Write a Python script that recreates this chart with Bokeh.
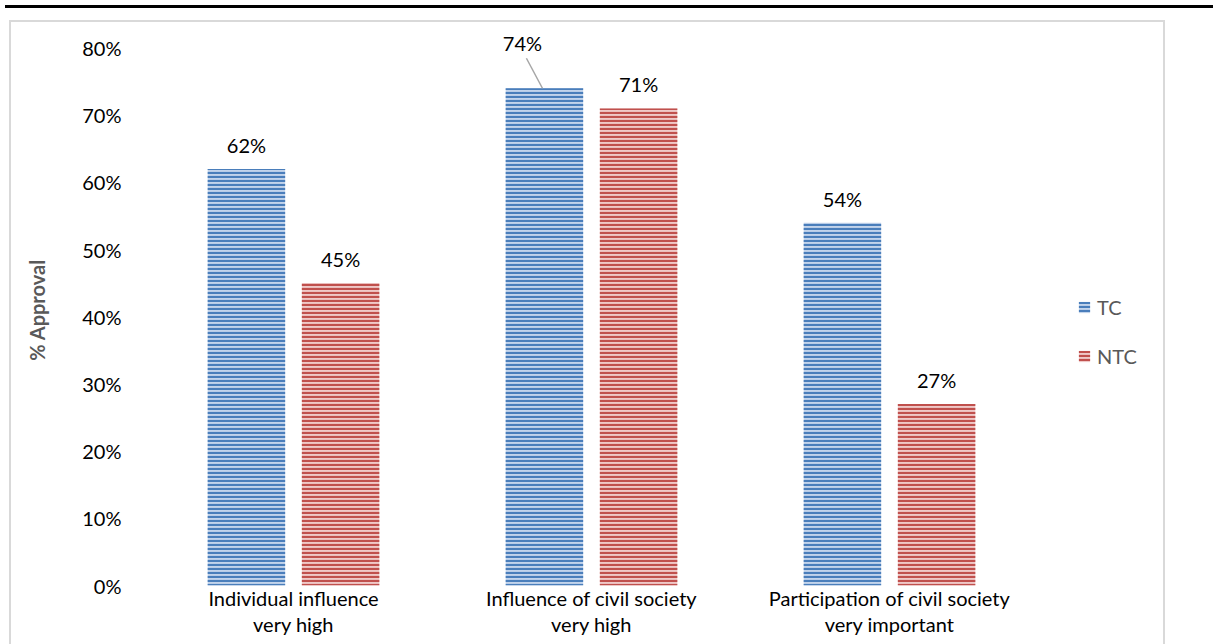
from bokeh.plotting import figure
from bokeh.models import ColumnDataSource, FixedTicker, Legend, LegendItem, Div, Range1d
from bokeh.layouts import column
from bokeh.embed import file_html
from bokeh.resources import INLINE
from bokeh.core.properties import value

# ---------------- data ----------------
categories = ["Individual influence\nvery high",
              "Influence of civil society\nvery high",
              "Participation of civil society\nvery important"]
series_names = ["TC", "NTC"]
tc_values = [62, 74, 54]
ntc_values = [45, 71, 27]
y_ticks = [0, 10, 20, 30, 40, 50, 60, 70, 80]
y_tick_labels = ["0%", "10%", "20%", "30%", "40%", "50%", "60%", "70%", "80%"]
y_title = "% Approval"

# ---------------- style ----------------
FONT = "Lato"
TC_HATCH, TC_FILL = "#4a7ebb", "#c3d4eb"
NTC_HATCH, NTC_FILL = "#c0504d", "#efc9c8"
W, H = 1156, 643
LEFT, RIGHT, TOP, BOTTOM = 133, 8, 12, 80
frame_w = W - LEFT - RIGHT
frame_h = H - TOP - BOTTOM
px_per_cat = 298.0
x_start = 0.5
x_end = x_start + frame_w / px_per_cat
y_end = 82.0
px_per_y = frame_h / y_end
dodge = 0.158
bar_w = 0.26

xs = list(range(1, len(categories) + 1))

p = figure(width=W, height=H, output_backend="svg", toolbar_location=None,
           x_range=Range1d(x_start, x_end), y_range=Range1d(0, y_end),
           min_border_left=LEFT, min_border_right=RIGHT,
           min_border_top=TOP, min_border_bottom=BOTTOM)
p.outline_line_color = None
p.grid.grid_line_color = None
p.background_fill_color = "white"
p.border_fill_color = "white"

src_tc = ColumnDataSource(dict(x=[x - dodge for x in xs], top=tc_values,
                               lab=[f"{v}%" for v in tc_values]))
src_ntc = ColumnDataSource(dict(x=[x + dodge for x in xs], top=ntc_values,
                                lab=[f"{v}%" for v in ntc_values]))

r_tc = p.vbar(x="x", top="top", bottom=0, width=bar_w, source=src_tc,
              fill_color=TC_FILL, line_color=None,
              hatch_pattern="horizontal_line", hatch_color=TC_HATCH,
              hatch_scale=4, hatch_weight=2.2)
r_ntc = p.vbar(x="x", top="top", bottom=0, width=bar_w, source=src_ntc,
               fill_color=NTC_FILL, line_color=None,
               hatch_pattern="horizontal_line", hatch_color=NTC_HATCH,
               hatch_scale=4, hatch_weight=2.2)

# data labels
lab_style = dict(text_font=value(FONT), text_font_size="20px", text_color="#000000",
                 text_align="center", text_baseline="bottom")
src_tc.data["xo"] = [0, -22, 0]
src_tc.data["yo"] = [-12, -33, -12]
p.text(x="x", y="top", text="lab", x_offset="xo", y_offset="yo", source=src_tc, **lab_style)
p.text(x="x", y="top", text="lab", y_offset=-12, source=src_ntc, **lab_style)

# leader line for the moved label
i = 1
lx0 = xs[i] - dodge - 2 / px_per_cat
ly0 = tc_values[i]
lx1 = lx0 - 16 / px_per_cat
ly1 = ly0 + 30 / px_per_y
p.segment(x0=[lx0], y0=[ly0], x1=[lx1], y1=[ly1], line_color="#a6a6a6", line_width=1.5)

# axes
p.yaxis.ticker = FixedTicker(ticks=y_ticks)
p.yaxis.major_label_overrides = {t: l for t, l in zip(y_ticks, y_tick_labels)}
p.yaxis.axis_line_color = None
p.yaxis.major_tick_line_color = None
p.yaxis.minor_tick_line_color = None
p.yaxis.major_label_standoff = 17
p.yaxis.major_label_text_font = FONT
p.yaxis.major_label_text_font_size = "20px"
p.yaxis.major_label_text_color = "#000000"
p.yaxis.axis_label = y_title
p.yaxis.axis_label_text_font = FONT
p.yaxis.axis_label_text_font_size = "20px"
p.yaxis.axis_label_text_font_style = "bold"
p.yaxis.axis_label_text_color = "#595959"
p.yaxis.axis_label_standoff = 30

p.xaxis.ticker = FixedTicker(ticks=xs)
p.xaxis.major_label_overrides = {x: c for x, c in zip(xs, categories)}
p.xaxis.axis_line_color = None
p.xaxis.major_tick_line_color = None
p.xaxis.minor_tick_line_color = None
p.xaxis.major_label_standoff = -6
p.xaxis.major_label_text_font = FONT
p.xaxis.major_label_text_font_size = "20px"
p.xaxis.major_label_text_line_height = 1.1
p.xaxis.major_label_text_color = "#000000"

legend = Legend(items=[LegendItem(label=series_names[0], renderers=[r_tc]),
                       LegendItem(label=series_names[1], renderers=[r_ntc])],
                location=(933, 217), orientation="vertical")
legend.border_line_color = None
legend.background_fill_alpha = 0
legend.padding = 0
legend.margin = 0
legend.glyph_width = 14
legend.glyph_height = 14
legend.label_height = 20
legend.spacing = 25
legend.label_standoff = 6
legend.label_text_font = FONT
legend.label_text_font_size = "20px"
legend.label_text_color = "#595959"
p.add_layout(legend)

p.styles = {"border": "2px solid #d9d9d9"}
p.margin = (7, 0, 0, 9)

rule = Div(width=1213, height=3, styles={"background-color": "#000000"})
layout = column(rule, p)

open("out.html", "w").write(file_html(layout, INLINE))
